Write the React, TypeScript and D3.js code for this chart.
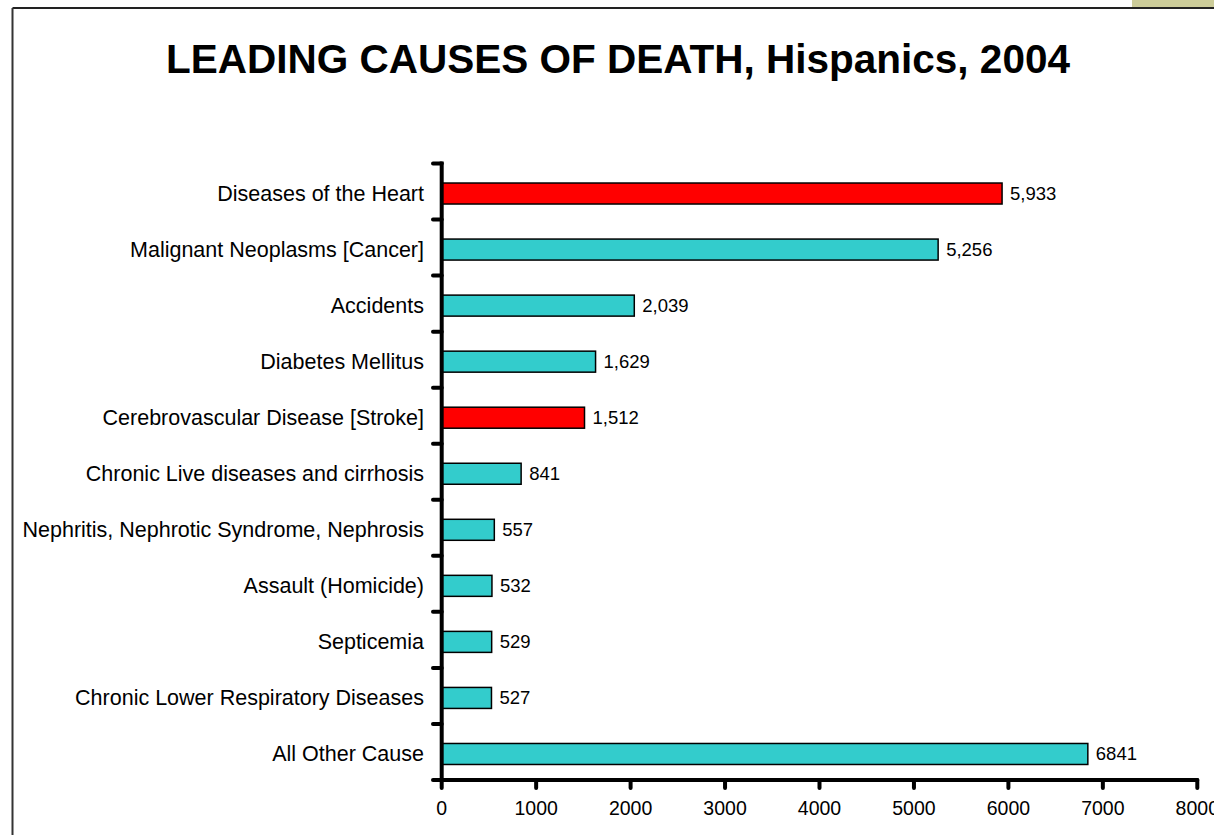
import React from "react";
import * as d3 from "d3";

const categories = [
  "Diseases of the Heart",
  "Malignant Neoplasms [Cancer]",
  "Accidents ",
  "Diabetes Mellitus",
  "Cerebrovascular Disease [Stroke]",
  "Chronic Live diseases and cirrhosis",
  "Nephritis, Nephrotic Syndrome, Nephrosis",
  "Assault (Homicide)",
  "Septicemia",
  "Chronic Lower Respiratory Diseases",
  "All Other Cause",
];
const deaths = [5933, 5256, 2039, 1629, 1512, 841, 557, 532, 529, 527, 6841];
const valueLabels = ["5,933", "5,256", "2,039", "1,629", "1,512", "841", "557", "532", "529", "527", "6841"];
const highlighted = ["Diseases of the Heart", "Cerebrovascular Disease [Stroke]"];
const xTicks = [0, 1000, 2000, 3000, 4000, 5000, 6000, 7000, 8000];

const W = 1214;
const H = 835;
const plot = { left: 441.7, right: 1197.3, top: 163.5, bottom: 780 };

export default function App() {
  const x = d3.scaleLinear().domain([0, 8000]).range([plot.left, plot.right]);
  const y = d3.scaleBand<string>().domain(categories).range([plot.top, plot.bottom]).paddingInner(0).paddingOuter(0);
  const bw = y.bandwidth();
  const barH = 21;
  const boundaries = d3.range(categories.length + 1).map((i) => plot.top + i * bw);
  const font = "Arial, 'Liberation Sans', Helvetica, sans-serif";

  return (
    <svg width={W} height={H} style={{ position: "absolute", left: 0, top: 0, background: "#fff" }} fontFamily={font}>
      <rect x={1132} y={0} width={82} height={8} fill="#cccc99" />
      <line x1={12.5} y1={8} x2={W} y2={8} stroke="#222" strokeWidth={2} />
      <line x1={12.5} y1={8} x2={12.5} y2={H} stroke="#333" strokeWidth={2} />

      <text x={618} y={73} textAnchor="middle" fontSize={40.5} fontWeight="bold" fill="#000">
        LEADING CAUSES OF DEATH, Hispanics, 2004
      </text>

      {categories.map((c, i) => {
        const top = (y(c) as number) + bw / 2 - barH / 2 + 2;
        const mid = top + barH / 2;
        return (
          <g key={c}>
            <rect
              x={x(0)}
              y={top}
              width={x(deaths[i]) - x(0)}
              height={barH}
              fill={highlighted.includes(c) ? "#ff0000" : "#33cccc"}
              stroke="#000"
              strokeWidth={1.5}
            />
            <text x={x(deaths[i]) + 8} y={mid + 6.5} fontSize={18.5} fill="#000">
              {valueLabels[i]}
            </text>
            <text x={424} y={mid + 7} textAnchor="end" fontSize={21.5} fill="#000">
              {c}
            </text>
          </g>
        );
      })}

      {boundaries.map((b, i) => (
        <line key={"yt" + i} x1={433} y1={b} x2={plot.left} y2={b} stroke="#000" strokeWidth={4} strokeLinecap="round" />
      ))}
      {xTicks.map((t) => (
        <g key={"xt" + t}>
          <line x1={x(t)} y1={plot.bottom} x2={x(t)} y2={plot.bottom + 8} stroke="#000" strokeWidth={4} strokeLinecap="round" />
          <text x={x(t)} y={plot.bottom + 35} textAnchor="middle" fontSize={19.5} fill="#000">
            {t}
          </text>
        </g>
      ))}
      <line x1={plot.left} y1={plot.top} x2={plot.left} y2={plot.bottom} stroke="#000" strokeWidth={4} strokeLinecap="square" />
      <line x1={plot.left} y1={plot.bottom} x2={plot.right} y2={plot.bottom} stroke="#000" strokeWidth={4} strokeLinecap="round" />
    </svg>
  );
}
